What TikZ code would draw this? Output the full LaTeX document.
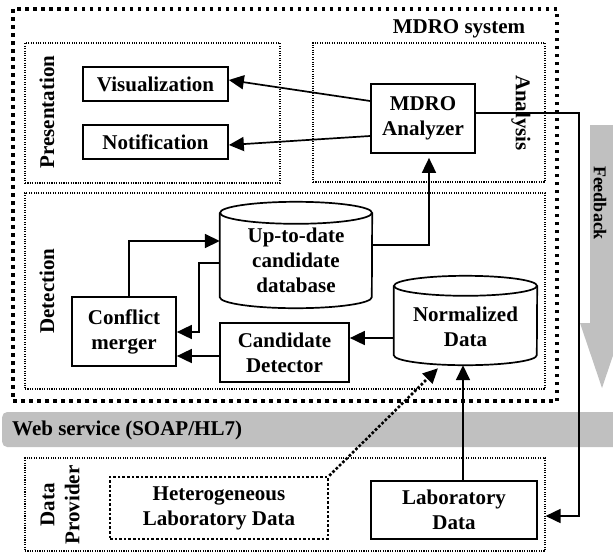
\documentclass[tikz,border=0pt]{standalone}
\usepackage{fontspec}
\setmainfont{Liberation Serif}
\usetikzlibrary{arrows.meta,calc}
\definecolor{barcol}{RGB}{192,192,192}
\tikzset{
  txt/.style={font=\fontsize{21}{25}\selectfont\bfseries, align=center, inner sep=0pt},
  box/.style={draw, line width=1.7pt, txt},
  region/.style={draw, line width=1.1pt, dash pattern=on 1.1pt off 1.3pt, inner sep=0pt},
  outerbox/.style={draw, line width=3.5pt, dash pattern=on 3.5pt off 4.5pt, inner sep=0pt},
  hetbox/.style={draw, line width=2.6pt, dash pattern=on 2.6pt off 2pt, txt},
  arr/.style={line width=1.7pt, -{Triangle[length=15pt,width=14pt]}},
  dotarr/.style={line width=2.6pt, dash pattern=on 2.6pt off 2pt, -{Triangle[length=15pt,width=14pt]}},
  cyl/.style={inner sep=0pt},
}
\begin{document}
\begin{tikzpicture}[x=1pt,y=1pt]
\useasboundingbox (0,0) rectangle (613,-552);
\clip (0,0) rectangle (613,-552);

% web service bar and feedback arrow (background)
\node[fill=barcol, rounded corners=5pt, minimum width=630pt, minimum height=35pt, inner sep=0pt, anchor=west] (web) at (2,-429.5) {};
\node[txt, anchor=west] (webl) at (12,-430) {Web service (SOAP/HL7)};
\fill[barcol] (590,-125) -- (614,-125) -- (614,-323) -- (624,-323) -- (602,-388) -- (580,-323) -- (590,-323) -- cycle;
\node[font=\fontsize{18}{22}\selectfont\bfseries, inner sep=0pt, rotate=-90] (fb) at (600,-203) {Feedback};

% regions
\node[outerbox, minimum width=544pt, minimum height=392pt] (sys) at (285,-205) {};
\node[txt] (sysl) at (459,-29) {MDRO system};
\node[region, minimum width=255pt, minimum height=140pt] (pres) at (152.5,-113) {};
\node[region, minimum width=232pt, minimum height=139pt] (ana) at (429,-112.5) {};
\node[region, minimum width=520pt, minimum height=196pt] (det) at (285,-291) {};
\node[region, minimum width=520pt, minimum height=93pt] (dp) at (285,-504.5) {};

\node[txt, rotate=90] (presl) at (47,-112) {Presentation};
\node[txt, rotate=-90] (anal) at (521,-113) {Analysis};
\node[txt, rotate=90] (detl) at (47,-291) {Detection};
\node[txt, rotate=90] (dpl) at (60,-505) {Data\\Provider};

% boxes
\node[box, minimum width=145pt, minimum height=34pt] (vis) at (155.5,-84) {Visualization};
\node[box, minimum width=145pt, minimum height=34pt] (notif) at (155.5,-142) {Notification};
\node[box, minimum width=104pt, minimum height=69pt] (an) at (423,-118.5) {MDRO\\Analyzer};
\node[box, minimum width=104pt, minimum height=69pt] (cm) at (124,-331.5) {Conflict\\merger};
\node[box, minimum width=129pt, minimum height=59pt] (cd) at (284.5,-352.5) {Candidate\\Detector};
\node[hetbox, minimum width=218pt, minimum height=62pt] (het) at (219,-508) {Heterogeneous\\Laboratory Data};
\node[box, minimum width=166pt, minimum height=58pt] (ld) at (454,-510) {Laboratory\\Data};

% cylinders
\node[cyl, minimum width=152pt, minimum height=106pt] (db) at (296,-255) {};
\draw[line width=1.7pt] ([yshift=-11]db.north west) -- ([yshift=11]db.south west)
  arc[start angle=180,end angle=360,x radius=76,y radius=11] -- ([yshift=-11]db.north east);
\draw[line width=1.7pt] ([yshift=-11]db.north) ellipse[x radius=76,y radius=11];
\node[txt] (dbl) at (296,-260) {Up-to-date\\candidate\\database};

\node[cyl, minimum width=143pt, minimum height=89pt] (nd) at (465.5,-320.5) {};
\draw[line width=1.7pt] ([yshift=-10]nd.north west) -- ([yshift=10]nd.south west)
  arc[start angle=180,end angle=360,x radius=71.5,y radius=10] -- ([yshift=-10]nd.north east);
\draw[line width=1.7pt] ([yshift=-10]nd.north) ellipse[x radius=71.5,y radius=10];
\node[txt] (ndl) at (465.5,-327) {Normalized\\Data};

% connectors
\draw[arr] ([yshift=17.5]an.west) -- ([yshift=4]vis.east);
\draw[arr] ([yshift=-17.5]an.west) -- ([yshift=-3]notif.east);
\draw[arr] ([xshift=5]cm.north) |- ([yshift=14]db.west);
\draw[arr] ([yshift=-8]db.west) -- ++(-21,0) |- ([yshift=-0.5]cm.east);
\draw[arr] ([yshift=-3.5]cd.west) -- ([yshift=-3.5]cd.west -| cm.east);
\draw[arr] ([yshift=-17.5]nd.west) -- ([yshift=-17.5]nd.west -| cd.east);
\draw[arr, shorten >=4pt] ([yshift=10]db.east) -| ([xshift=6]an.south);
\draw[arr] ([xshift=9]ld.north) -- ([xshift=9]ld.north |- nd.south);
\coordinate (ndin) at ([xshift=-27.5,yshift=-3]nd.south);
\draw[dotarr] (het.north east) -- (ndin);
\draw[arr] ([yshift=5.5]an.east) -- ++(103,0) |- ([yshift=-11.5]dp.east);
\end{tikzpicture}
\end{document}
